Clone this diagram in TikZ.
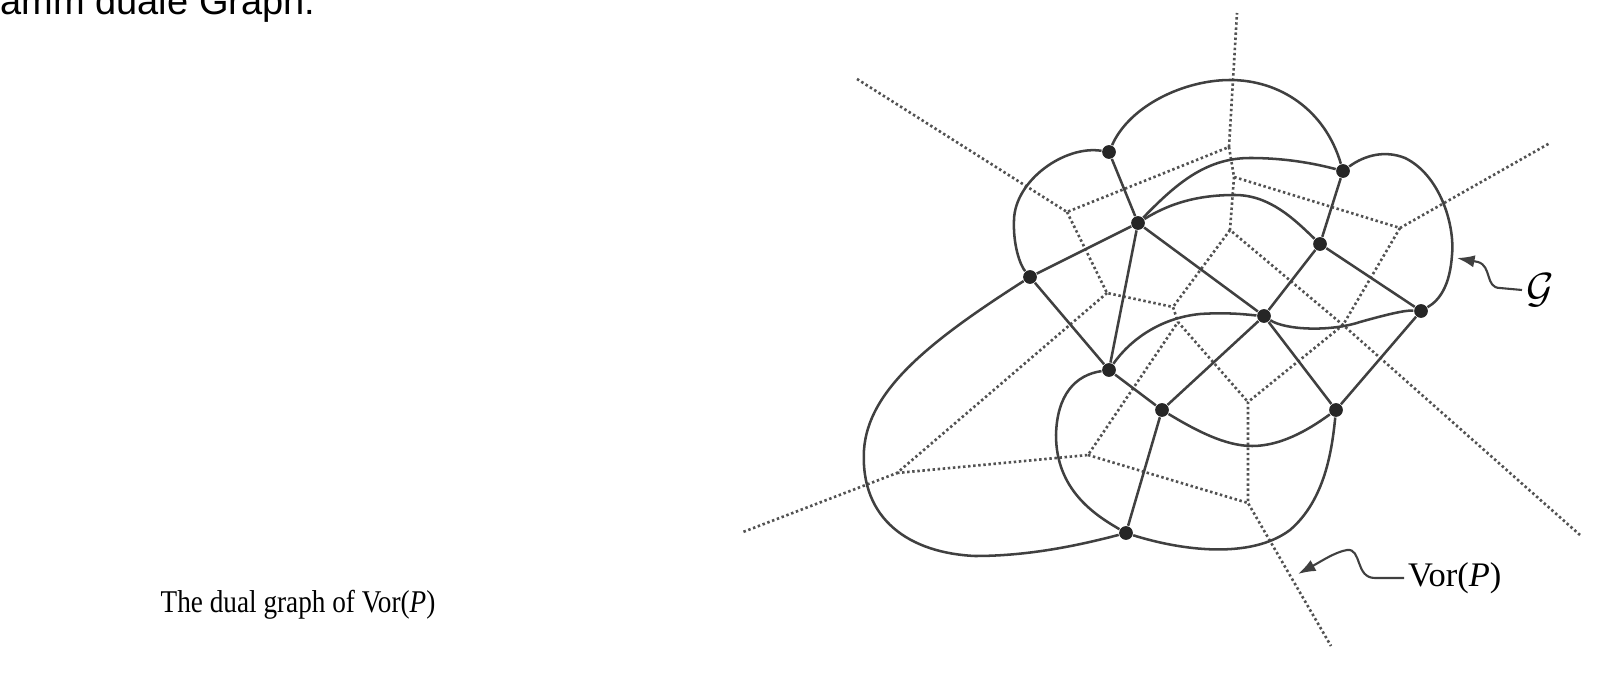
\documentclass[tikz,border=0pt]{standalone}
\usepackage{amsmath,amssymb}
\usepackage{fontspec}
\setmainfont{Liberation Serif}
\newfontfamily\headsans{Liberation Sans}
\usepackage{xcolor}
\usepackage{tikz}
\usetikzlibrary{arrows.meta}

\begin{document}
\begin{tikzpicture}[x=0.01cm, y=-0.01cm,
    site/.style={circle, fill=black!85, inner sep=0pt, minimum size=3.9pt},
    dual/.style={draw=black!75, line width=0.72pt},
    vor/.style={draw=black!68, line width=0.75pt, dash pattern=on 0.7pt off 0.75pt},
    pointer/.style={draw=black!75, line width=0.6pt, -{Latex[length=5pt,width=3.5pt]}},
    caption/.style={inner sep=0pt, font=\fontsize{9}{10}\selectfont},
    tag/.style={inner sep=1pt, font=\fontsize{9.8}{11}\selectfont}]

    \useasboundingbox (0,0) rectangle (1623,688);
    \clip (0,0) rectangle (1623,688);

    % sites of P
    \node [site] (pA) at (1109,152) {};
    \node [site] (pB) at (1343,171) {};
    \node [site] (pC) at (1138,223) {};
    \node [site] (pD) at (1320,244) {};
    \node [site] (pE) at (1030,277) {};
    \node [site] (pF) at (1264,316) {};
    \node [site] (pH) at (1421,311) {};
    \node [site] (pI) at (1109,370) {};
    \node [site] (pJ) at (1162,410) {};
    \node [site] (pK) at (1336,410) {};
    \node [site] (pL) at (1126,533) {};

    % Voronoi vertices and ends of the rays
    \coordinate (va) at (1067,212);
    \coordinate (vt) at (1229,147);
    \coordinate (vb) at (1234,177);
    \coordinate (vc) at (1230,230);
    \coordinate (vj) at (1400,228);
    \coordinate (ve) at (1107,293);
    \coordinate (vd) at (1173,307);
    \coordinate (vm) at (1178,322);
    \coordinate (vk) at (1343,325);
    \coordinate (vh) at (1248,402);
    \coordinate (vf) at (897,473);
    \coordinate (vg) at (1088,455);
    \coordinate (vi) at (1248,503);
    \coordinate (ray1) at (857,79);
    \coordinate (ray2) at (1237,13);
    \coordinate (ray3) at (1550,143);
    \coordinate (ray4) at (1580,535);
    \coordinate (ray5) at (1331,646);
    \coordinate (ray6) at (743,532);

    \path [vor] (ray1) -- (va) -- (vt) -- (ray2);
    \path [vor] (vt) -- (vb) -- (vj) -- (ray3);
    \path [vor] (vb) -- (vc) -- (vk) -- (ray4);
    \path [vor] (vj) -- (vk) -- (vh) -- (vi) -- (ray5);
    \path [vor] (va) -- (ve) -- (vd) -- (vm) -- (vh);
    \path [vor] (vc) -- (vd);
    \path [vor] (ve) -- (vf) -- (ray6);
    \path [vor] (vf) -- (vg) -- (vm);
    \path [vor] (vg) -- (vi);

    % dual graph
    \path [dual] (pA) -- (pC);
    \path [dual] (pB) -- (pD);
    \path [dual] (pC) -- (pE);
    \path [dual] (pC) -- (pF);
    \path [dual] (pC) -- (pI);
    \path [dual] (pD) -- (pF);
    \path [dual] (pD) -- (pH);
    \path [dual] (pE) -- (pI);
    \path [dual] (pF) -- (pJ);
    \path [dual] (pF) -- (pK);
    \path [dual] (pH) -- (pK);
    \path [dual] (pI) -- (pJ);
    \path [dual] (pJ) -- (pL);
    \path [dual] (pA) .. controls (1130,105) and (1185,80) .. (1230,80)
        .. controls (1280,80) and (1325,110) .. (pB);
    \path [dual] (pA) .. controls (1065,145) and (1015,180) .. (1014,220)
        .. controls (1013,245) and (1020,265) .. (pE);
    \path [dual] (pC) .. controls (1175,185) and (1205,158) .. (1250,158)
        .. controls (1290,158) and (1320,165) .. (pB);
    \path [dual] (pC) .. controls (1175,200) and (1205,195) .. (1235,195)
        .. controls (1270,195) and (1295,220) .. (pD);
    \path [dual] (pB) .. controls (1365,155) and (1385,150) .. (1405,158)
        .. controls (1440,175) and (1455,225) .. (1452,255)
        .. controls (1450,285) and (1440,300) .. (pH);
    \path [dual] (pF) .. controls (1285,330) and (1330,332) .. (1360,322)
        .. controls (1385,315) and (1405,310) .. (pH);
    \path [dual] (pI) .. controls (1130,340) and (1160,318) .. (1200,314)
        .. controls (1230,312) and (1250,315) .. (pF);
    \path [dual] (pI) .. controls (1075,375) and (1057,395) .. (1056,435)
        .. controls (1056,490) and (1095,515) .. (pL);
    \path [dual] (pJ) .. controls (1195,430) and (1225,446) .. (1252,446)
        .. controls (1285,446) and (1315,425) .. (pK);
    \path [dual] (pK) .. controls (1332,450) and (1325,500) .. (1290,530)
        .. controls (1250,560) and (1180,550) .. (pL);
    \path [dual] (pE) .. controls (930,341) and (868,390) .. (864,450)
        .. controls (860,520) and (910,553) .. (975,556)
        .. controls (1030,556) and (1080,545) .. (pL);

    % labels
    \node [tag, anchor=west] (glabel) at (1522,290) {\fontsize{11.5}{13}\selectfont$\mathcal{G}$};
    \coordinate (gtip) at (1457,258);
    \path [pointer] (glabel.west) -- (1500,288) .. controls (1485,288) and (1492,266) .. (1478,262) -- (gtip);

    \node [tag, anchor=base west] (vlabel) at (1404,587) {Vor(\textit{P})};
    \coordinate (vtip) at (1298,574);
    \path [pointer] (vlabel.west |- 0,578) -- (1375,578) .. controls (1355,578) and (1362,548) .. (1347,550)
        .. controls (1335,552) and (1320,562) .. (vtip);

    \node [caption, anchor=base west] (cap) at (160,613) {\scalebox{0.86}[1]{The dual graph of Vor(\textit{P})}};
    \node [inner sep=0pt, anchor=base west, font=\headsans\fontsize{10.8}{12}\selectfont] (head) at (0,15) {amm duale Graph.};
\end{tikzpicture}
\end{document}
